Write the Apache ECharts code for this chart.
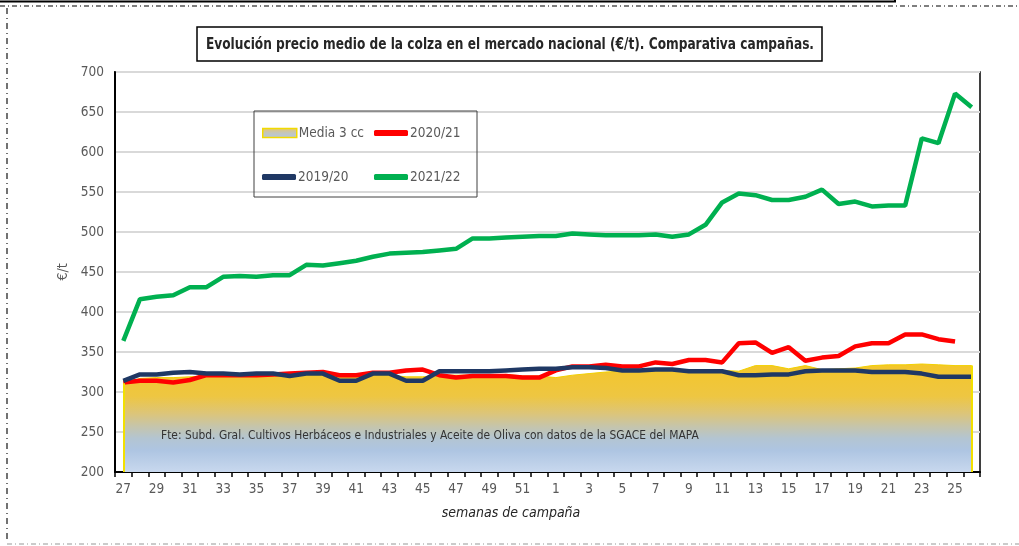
<!DOCTYPE html>
<html>
<head>
<meta charset="utf-8">
<script src="https://cdn.jsdelivr.net/npm/echarts@6/dist/echarts.min.js"></script>
<style>
html,body{margin:0;padding:0;background:#fff;}
#c{width:1019px;height:546px;}
</style>
</head>
<body>
<div id="c"></div>
<script>
var weeks = ['27','28','29','30','31','32','33','34','35','36','37','38','39','40','41','42','43','44','45','46','47','48','49','50','51','52',
             '1','2','3','4','5','6','7','8','9','10','11','12','13','14','15','16','17','18','19','20','21','22','23','24','25','26'];

var media3cc = [311,317,318,318,319,320,320,320,320,321,321,321,321,319,319,321,321,319,319,321,321,321,321,322,320,320,
                318,321,323,325,326,326,327,327,327,327,327,326,333,333,329,333,328,329,330,333,334,334,335,334,333,333];

var c2020_21 = [312,314,314,312,315,321,321,321,321,322,323,324,325,321,321,324,324,327,328,321,318,320,320,320,318,318,
                327,332,332,334,332,332,337,335,340,340,337,361,362,349,356,339,343,345,357,361,361,372,372,366,363,null];

var c2019_20 = [314,322,322,324,325,323,323,322,323,323,320,323,323,314,314,323,323,314,314,326,326,326,326,327,328,329,
                329,331,331,330,327,327,328,328,326,326,326,321,321,322,322,326,327,327,327,325,325,325,323,319,319,319];

var c2021_22 = [364,416,419,421,431,431,444,445,444,446,446,459,458,461,464,469,473,474,475,477,479,492,492,493,494,495,
                495,498,497,496,496,496,497,494,497,509,537,548,546,540,540,544,553,535,538,532,533,533,617,611,673,656];

var yTicks = {min:200, max:700, interval:50};

var titleText = 'Evolución precio medio de la colza en el mercado nacional (€/t). Comparativa campañas.';
var sourceText = 'Fte: Subd. Gral. Cultivos Herbáceos e Industriales y Aceite de Oliva con datos de la SGACE del MAPA';
var xName = 'semanas de campaña';

var FF = "'DejaVu Sans Condensed','Liberation Sans',sans-serif";
var grey = '#595959';

var areaGrad = new echarts.graphic.LinearGradient(0,0,0,1,[
  {offset:0,color:'#F4C62A'},
  {offset:0.3,color:'#EEC642'},
  {offset:0.46,color:'#DCC57A'},
  {offset:0.58,color:'#C5C5AC'},
  {offset:0.69,color:'#B3C5D2'},
  {offset:0.8,color:'#AEC5E2'},
  {offset:1,color:'#C8D8EE'}
]);
var legendGrad = new echarts.graphic.LinearGradient(0,0,0,1,[
  {offset:0,color:'#E9C766'},
  {offset:0.5,color:'#C3C6BE'},
  {offset:1,color:'#B3C6DF'}
]);

function lg(name, left, top, icon, h, style){
  return {
    left:left, top:top, orient:'horizontal', itemWidth:34, itemHeight:h, itemGap:0,
    padding:0, icon:icon,
    textStyle:{fontFamily:FF, fontSize:13.5, color:grey, padding:[0,0,0,-3]},
    data:[{name:name, icon:icon, itemStyle:style}]
  };
}

var chart = echarts.init(document.getElementById('c'), null, {renderer:'canvas'});
chart.setOption({
  animation:false,
  backgroundColor:'#ffffff',
  grid:{left:115, right:39, top:72, bottom:74, show:true, borderColor:'#000', borderWidth:1.5, containLabel:false},
  legend:[
    lg('Media 3 cc', 262, 126, 'rect', 9, {color:legendGrad, borderColor:'#F2DA00', borderWidth:1.5}),
    lg('2020/21', 374, 126, 'roundRect', 6, {color:'#FF0000'}),
    lg('2019/20', 262, 170, 'roundRect', 6, {color:'#1F3864'}),
    lg('2021/22', 374, 170, 'roundRect', 6, {color:'#00B050'})
  ],
  xAxis:{
    type:'category', data:weeks, boundaryGap:true,
    axisLine:{show:true, lineStyle:{color:'#000', width:2}},
    axisTick:{show:true, interval:0, length:5, lineStyle:{color:'#000', width:1.5}},
    axisLabel:{interval:1, margin:10, fontFamily:FF, fontSize:13.5, color:grey},
    splitLine:{show:false}
  },
  yAxis:{
    type:'value', min:yTicks.min, max:yTicks.max, interval:yTicks.interval,
    name:'€/t', nameLocation:'middle', nameGap:44, nameRotate:90,
    nameTextStyle:{fontFamily:FF, fontSize:14, color:grey},
    axisLine:{show:true, lineStyle:{color:'#000', width:2}},
    axisTick:{show:false},
    axisLabel:{margin:11, fontFamily:FF, fontSize:13.5, color:grey},
    splitLine:{show:true, lineStyle:{color:'#D9D9D9', width:2}}
  },
  series:[
    {
      name:'Media 3 cc', type:'line', data:media3cc, symbol:'none', z:1,
      itemStyle:{color:'#F2D000'},
      lineStyle:{color:'#F2D000', width:1},
      areaStyle:{color:areaGrad, opacity:1, origin:'start'},
      markLine:{
        silent:true, symbol:'none', label:{show:false},
        lineStyle:{color:'#F2E000', width:2, type:'solid'},
        data:[
          [{coord:[weeks[0], yTicks.min]},{coord:[weeks[0], media3cc[0]]}],
          [{coord:[weeks[weeks.length-1], yTicks.min]},{coord:[weeks[weeks.length-1], media3cc[media3cc.length-1]]}]
        ]
      }
    },
    {name:'2020/21', type:'line', data:c2020_21, symbol:'none', z:2,
     itemStyle:{color:'#FF0000'}, lineStyle:{color:'#FF0000', width:4.5}},
    {name:'2019/20', type:'line', data:c2019_20, symbol:'none', z:3,
     itemStyle:{color:'#1F3864'}, lineStyle:{color:'#1F3864', width:4.5}},
    {name:'2021/22', type:'line', data:c2021_22, symbol:'none', z:4,
     itemStyle:{color:'#00B050'}, lineStyle:{color:'#00B050', width:4.5}}
  ],
  graphic:[
    {type:'polyline', silent:true, shape:{points:[[0,1.5],[895,1.5],[895,0]]}, style:{stroke:'#000', lineWidth:2, fill:null}},
    {type:'line', silent:true, shape:{x1:0,y1:6,x2:1019,y2:6}, style:{stroke:'#555', lineWidth:1.5, lineDash:[5,3,1,3]}},
    {type:'line', silent:true, shape:{x1:7,y1:8,x2:7,y2:543}, style:{stroke:'#444', lineWidth:1.5, lineDash:[6,4,1,4]}},
    {type:'line', silent:true, shape:{x1:7,y1:544,x2:1019,y2:544}, style:{stroke:'#BBBBBB', lineWidth:1.5, lineDash:[5,3,1,3]}},
    {type:'rect', silent:true, shape:{x:197,y:27,width:625,height:34}, style:{stroke:'#000', lineWidth:1.5, fill:'#fff'}, z:10},
    {type:'text', silent:true, x:510, y:44.5, scaleX:0.82, z:11,
     style:{text:titleText, font:"bold 16.5px 'DejaVu Sans Condensed',sans-serif", fill:'#262626', align:'center', verticalAlign:'middle'}},
    {type:'rect', silent:true, shape:{x:254,y:111,width:223,height:86}, style:{stroke:'#404040', lineWidth:1, fill:null}, z:10},
    {type:'text', silent:true, x:161, y:436, scaleX:0.915, z:10,
     style:{text:sourceText, font:"13px 'DejaVu Sans Condensed',sans-serif", fill:'#333', verticalAlign:'middle'}},
    {type:'text', silent:true, x:511, y:513, z:10,
     style:{text:xName, font:"italic 14px 'DejaVu Sans Condensed',sans-serif", fill:'#262626', align:'center', verticalAlign:'middle'}}
  ]
});
</script>
</body>
</html>
